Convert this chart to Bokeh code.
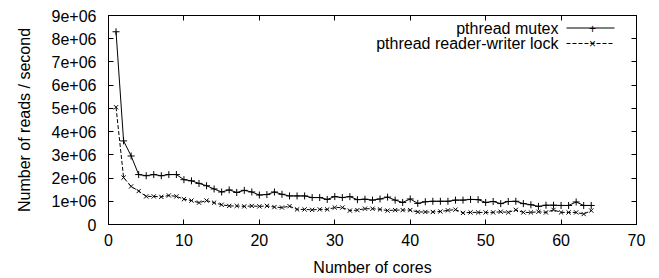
from bokeh.plotting import figure
from bokeh.models import ColumnDataSource, FixedTicker, LinearAxis, Range1d, Label, Arrow
from bokeh.embed import file_html
from bokeh.resources import INLINE

cores = [1, 2, 3, 4, 5, 6, 7, 8, 9, 10, 11, 12, 13, 14, 15, 16, 17, 18, 19, 20,
         21, 22, 23, 24, 25, 26, 27, 28, 29, 30, 31, 32, 33, 34, 35, 36, 37, 38, 39, 40,
         41, 42, 43, 44, 45, 46, 47, 48, 49, 50, 51, 52, 53, 54, 55, 56, 57, 58, 59, 60,
         61, 62, 63, 64]

mutex = [8.30e6, 3.60e6, 2.95e6, 2.15e6, 2.10e6, 2.15e6, 2.10e6, 2.15e6, 2.15e6, 1.93e6,
         1.88e6, 1.77e6, 1.67e6, 1.53e6, 1.40e6, 1.49e6, 1.38e6, 1.47e6, 1.40e6, 1.27e6,
         1.29e6, 1.40e6, 1.30e6, 1.23e6, 1.23e6, 1.23e6, 1.16e6, 1.16e6, 1.08e6, 1.20e6,
         1.16e6, 1.20e6, 1.07e6, 1.09e6, 1.05e6, 1.10e6, 1.18e6, 1.05e6, 0.95e6, 1.10e6,
         0.91e6, 0.98e6, 1.00e6, 1.00e6, 1.00e6, 1.05e6, 1.05e6, 1.08e6, 1.07e6, 0.95e6,
         0.99e6, 0.90e6, 0.99e6, 1.00e6, 0.90e6, 0.85e6, 0.78e6, 0.83e6, 0.83e6, 0.82e6,
         0.82e6, 0.97e6, 0.82e6, 0.82e6]

rwlock = [5.05e6, 2.02e6, 1.64e6, 1.44e6, 1.21e6, 1.21e6, 1.19e6, 1.25e6, 1.21e6, 1.09e6,
          1.03e6, 0.94e6, 1.03e6, 0.94e6, 0.85e6, 0.80e6, 0.80e6, 0.78e6, 0.80e6, 0.78e6,
          0.80e6, 0.75e6, 0.73e6, 0.79e6, 0.65e6, 0.65e6, 0.63e6, 0.65e6, 0.65e6, 0.73e6,
          0.73e6, 0.60e6, 0.62e6, 0.68e6, 0.68e6, 0.65e6, 0.60e6, 0.62e6, 0.62e6, 0.62e6,
          0.54e6, 0.54e6, 0.54e6, 0.56e6, 0.61e6, 0.64e6, 0.50e6, 0.52e6, 0.52e6, 0.52e6,
          0.52e6, 0.55e6, 0.52e6, 0.63e6, 0.52e6, 0.52e6, 0.55e6, 0.52e6, 0.63e6, 0.52e6,
          0.52e6, 0.52e6, 0.45e6, 0.60e6]

x_ticks = [0, 10, 20, 30, 40, 50, 60, 70]
y_ticks = [0, 1e6, 2e6, 3e6, 4e6, 5e6, 6e6, 7e6, 8e6, 9e6]
y_tick_labels = ["0", "1e+06", "2e+06", "3e+06", "4e+06", "5e+06", "6e+06", "7e+06", "8e+06", "9e+06"]

series_names = ["pthread mutex", "pthread reader-writer lock"]

FONT = "Liberation Sans"
FS = "16px"

src = ColumnDataSource(dict(x=cores, m=mutex, r=rwlock))

p = figure(width=650, height=278, x_range=Range1d(0, 70), y_range=Range1d(0, 9e6),
           output_backend="svg", toolbar_location=None,
           min_border_left=108, min_border_right=14, min_border_top=15, min_border_bottom=53)
p.grid.visible = False
p.outline_line_color = "black"
p.outline_line_width = 1
p.background_fill_color = "white"
p.border_fill_color = "white"

p.line("x", "m", source=src, line_color="black", line_width=1)
p.scatter("x", "m", source=src, marker="cross", size=7, line_color="black", line_width=1)
p.line("x", "r", source=src, line_color="black", line_width=1, line_dash="4 2")
p.scatter("x", "r", source=src, marker="x", size=6, line_color="black", line_width=1)

def style(ax, labels=True):
    ax.major_tick_in = 5
    ax.major_tick_out = 0
    ax.minor_tick_in = 0
    ax.minor_tick_out = 0
    ax.axis_line_color = "black"
    ax.major_tick_line_color = "black"
    ax.major_label_text_font = FONT
    ax.major_label_text_color = "black"
    ax.axis_label_text_font = FONT
    ax.axis_label_text_font_style = "normal"
    ax.axis_label_text_font_size = FS
    ax.axis_label_text_color = "black"
    ax.major_label_text_font_size = FS

xa = p.xaxis[0]
xa.ticker = FixedTicker(ticks=x_ticks, minor_ticks=[])
xa.axis_label = "Number of cores"
style(xa)
xa.major_label_standoff = 9
xa.axis_label_standoff = 10

ya = p.yaxis[0]
ya.ticker = FixedTicker(ticks=y_ticks, minor_ticks=[])
ya.major_label_overrides = {t: s for t, s in zip(y_ticks, y_tick_labels)}
ya.axis_label = "Number of reads / second"
style(ya)
ya.major_label_standoff = 12
ya.axis_label_standoff = 16

# mirrored ticks on the right and top (gnuplot border style), no labels
ra = LinearAxis(ticker=FixedTicker(ticks=y_ticks, minor_ticks=[]))
style(ra)
ra.major_label_overrides = {t: "" for t in y_ticks}
ra.major_label_standoff = 0
p.add_layout(ra, "right")
ta = LinearAxis(ticker=FixedTicker(ticks=x_ticks, minor_ticks=[]))
style(ta)
ta.major_label_overrides = {t: "" for t in x_ticks}
ta.major_label_standoff = 0
p.add_layout(ta, "above")

# gnuplot-style key: text right-aligned, sample to the right
rows = [(196.5, series_names[0], None, "+"), (181, series_names[1], "4 2", "\u00d7")]
for yy, name, dash, mk in rows:
    p.add_layout(Label(x=450, y=yy, x_units="screen", y_units="screen", text=name,
                       text_align="right", text_baseline="middle", text_font=FONT,
                       text_font_size=FS, text_color="black"))
    arr = Arrow(end=None, x_start=458, y_start=yy, x_end=506, y_end=yy,
                start_units="screen", end_units="screen", line_color="black", line_width=1)
    if dash:
        arr.line_dash = dash
    p.add_layout(arr)
    p.add_layout(Label(x=484, y=yy, x_units="screen", y_units="screen", text=mk,
                       text_align="center", text_baseline="middle", text_font=FONT,
                       text_font_size="12px", text_color="black"))

open("out.html", "w").write(file_html(p, INLINE))
